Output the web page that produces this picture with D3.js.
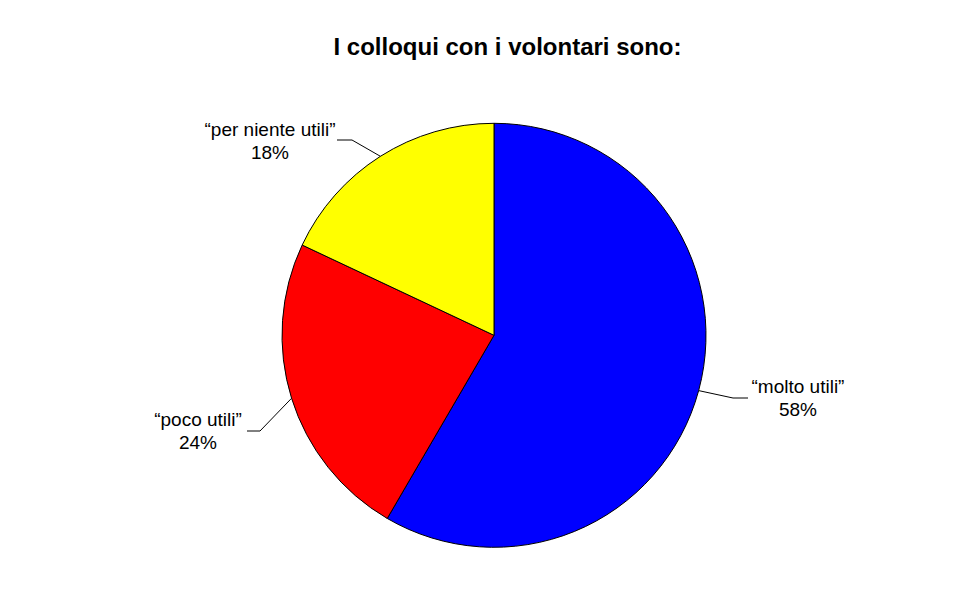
<!DOCTYPE html>
<html>
<head>
<meta charset="utf-8">
<script src="https://cdn.jsdelivr.net/npm/d3@7"></script>
<style>
    html, body { margin: 0; padding: 0; background: #fff; }
    svg text { font-family: "Liberation Sans", Arial, sans-serif; fill: #000; }
</style>
</head>
<body>
<div class="chart"></div>
<script>
    // survey answers, clockwise from 12 o'clock
    const categories = ['\u201cmolto utili\u201d', '\u201cpoco utili\u201d', '\u201cper niente utili\u201d'];
    const shares = [58.4, 23.6, 18.0];
    const colours = ['#0000ff', '#ff0000', '#ffff00'];
    const title = 'I colloqui con i volontari sono:';

    // label placement: elbow of the leader, end of the leader, text anchor
    const labelLayout = [
        { elbow: [733, 398], end: [748, 398], text: [798, 393] },
        { elbow: [260, 431], end: [247, 431], text: [198, 426] },
        { elbow: [352, 140], end: [337, 140], text: [270, 136] }
    ];

    const width = 970, height = 604;
    const cx = 494, cy = 335.3, radius = 212;

    const svg = d3.select('.chart').append('svg')
        .attr('width', width)
        .attr('height', height);

    svg.append('text')
        .attr('x', 507.5)
        .attr('y', 55)
        .attr('text-anchor', 'middle')
        .style('font-size', '24px')
        .style('font-weight', 'bold')
        .text(title);

    const pie = d3.pie().sort(null).value(d => d);
    const arc = d3.arc().innerRadius(0).outerRadius(radius);
    const slices = pie(shares);

    const g = svg.append('g').attr('transform', `translate(${cx},${cy})`);

    g.selectAll('path.slice')
        .data(slices)
        .join('path')
        .attr('class', 'slice')
        .attr('d', arc)
        .attr('fill', (d, i) => colours[i])
        .attr('stroke', '#000')
        .attr('stroke-width', 1);

    // leader lines start on the rim at each slice's mid angle
    const line = d3.line();
    svg.selectAll('path.leader')
        .data(slices)
        .join('path')
        .attr('class', 'leader')
        .attr('fill', 'none')
        .attr('stroke', '#000')
        .attr('stroke-width', 1)
        .attr('d', (d, i) => {
            const a = (d.startAngle + d.endAngle) / 2;
            const rim = [cx + radius * Math.sin(a), cy - radius * Math.cos(a)];
            return line([rim, labelLayout[i].elbow, labelLayout[i].end]);
        });

    const labels = svg.selectAll('text.label')
        .data(slices)
        .join('text')
        .attr('class', 'label')
        .attr('text-anchor', 'middle')
        .style('font-size', '19px');

    labels.append('tspan')
        .attr('x', (d, i) => labelLayout[i].text[0])
        .attr('y', (d, i) => labelLayout[i].text[1])
        .text((d, i) => categories[i]);

    labels.append('tspan')
        .attr('x', (d, i) => labelLayout[i].text[0])
        .attr('y', (d, i) => labelLayout[i].text[1] + 22.5)
        .text(d => Math.round(d.data) + '%');
</script>
</body>
</html>
